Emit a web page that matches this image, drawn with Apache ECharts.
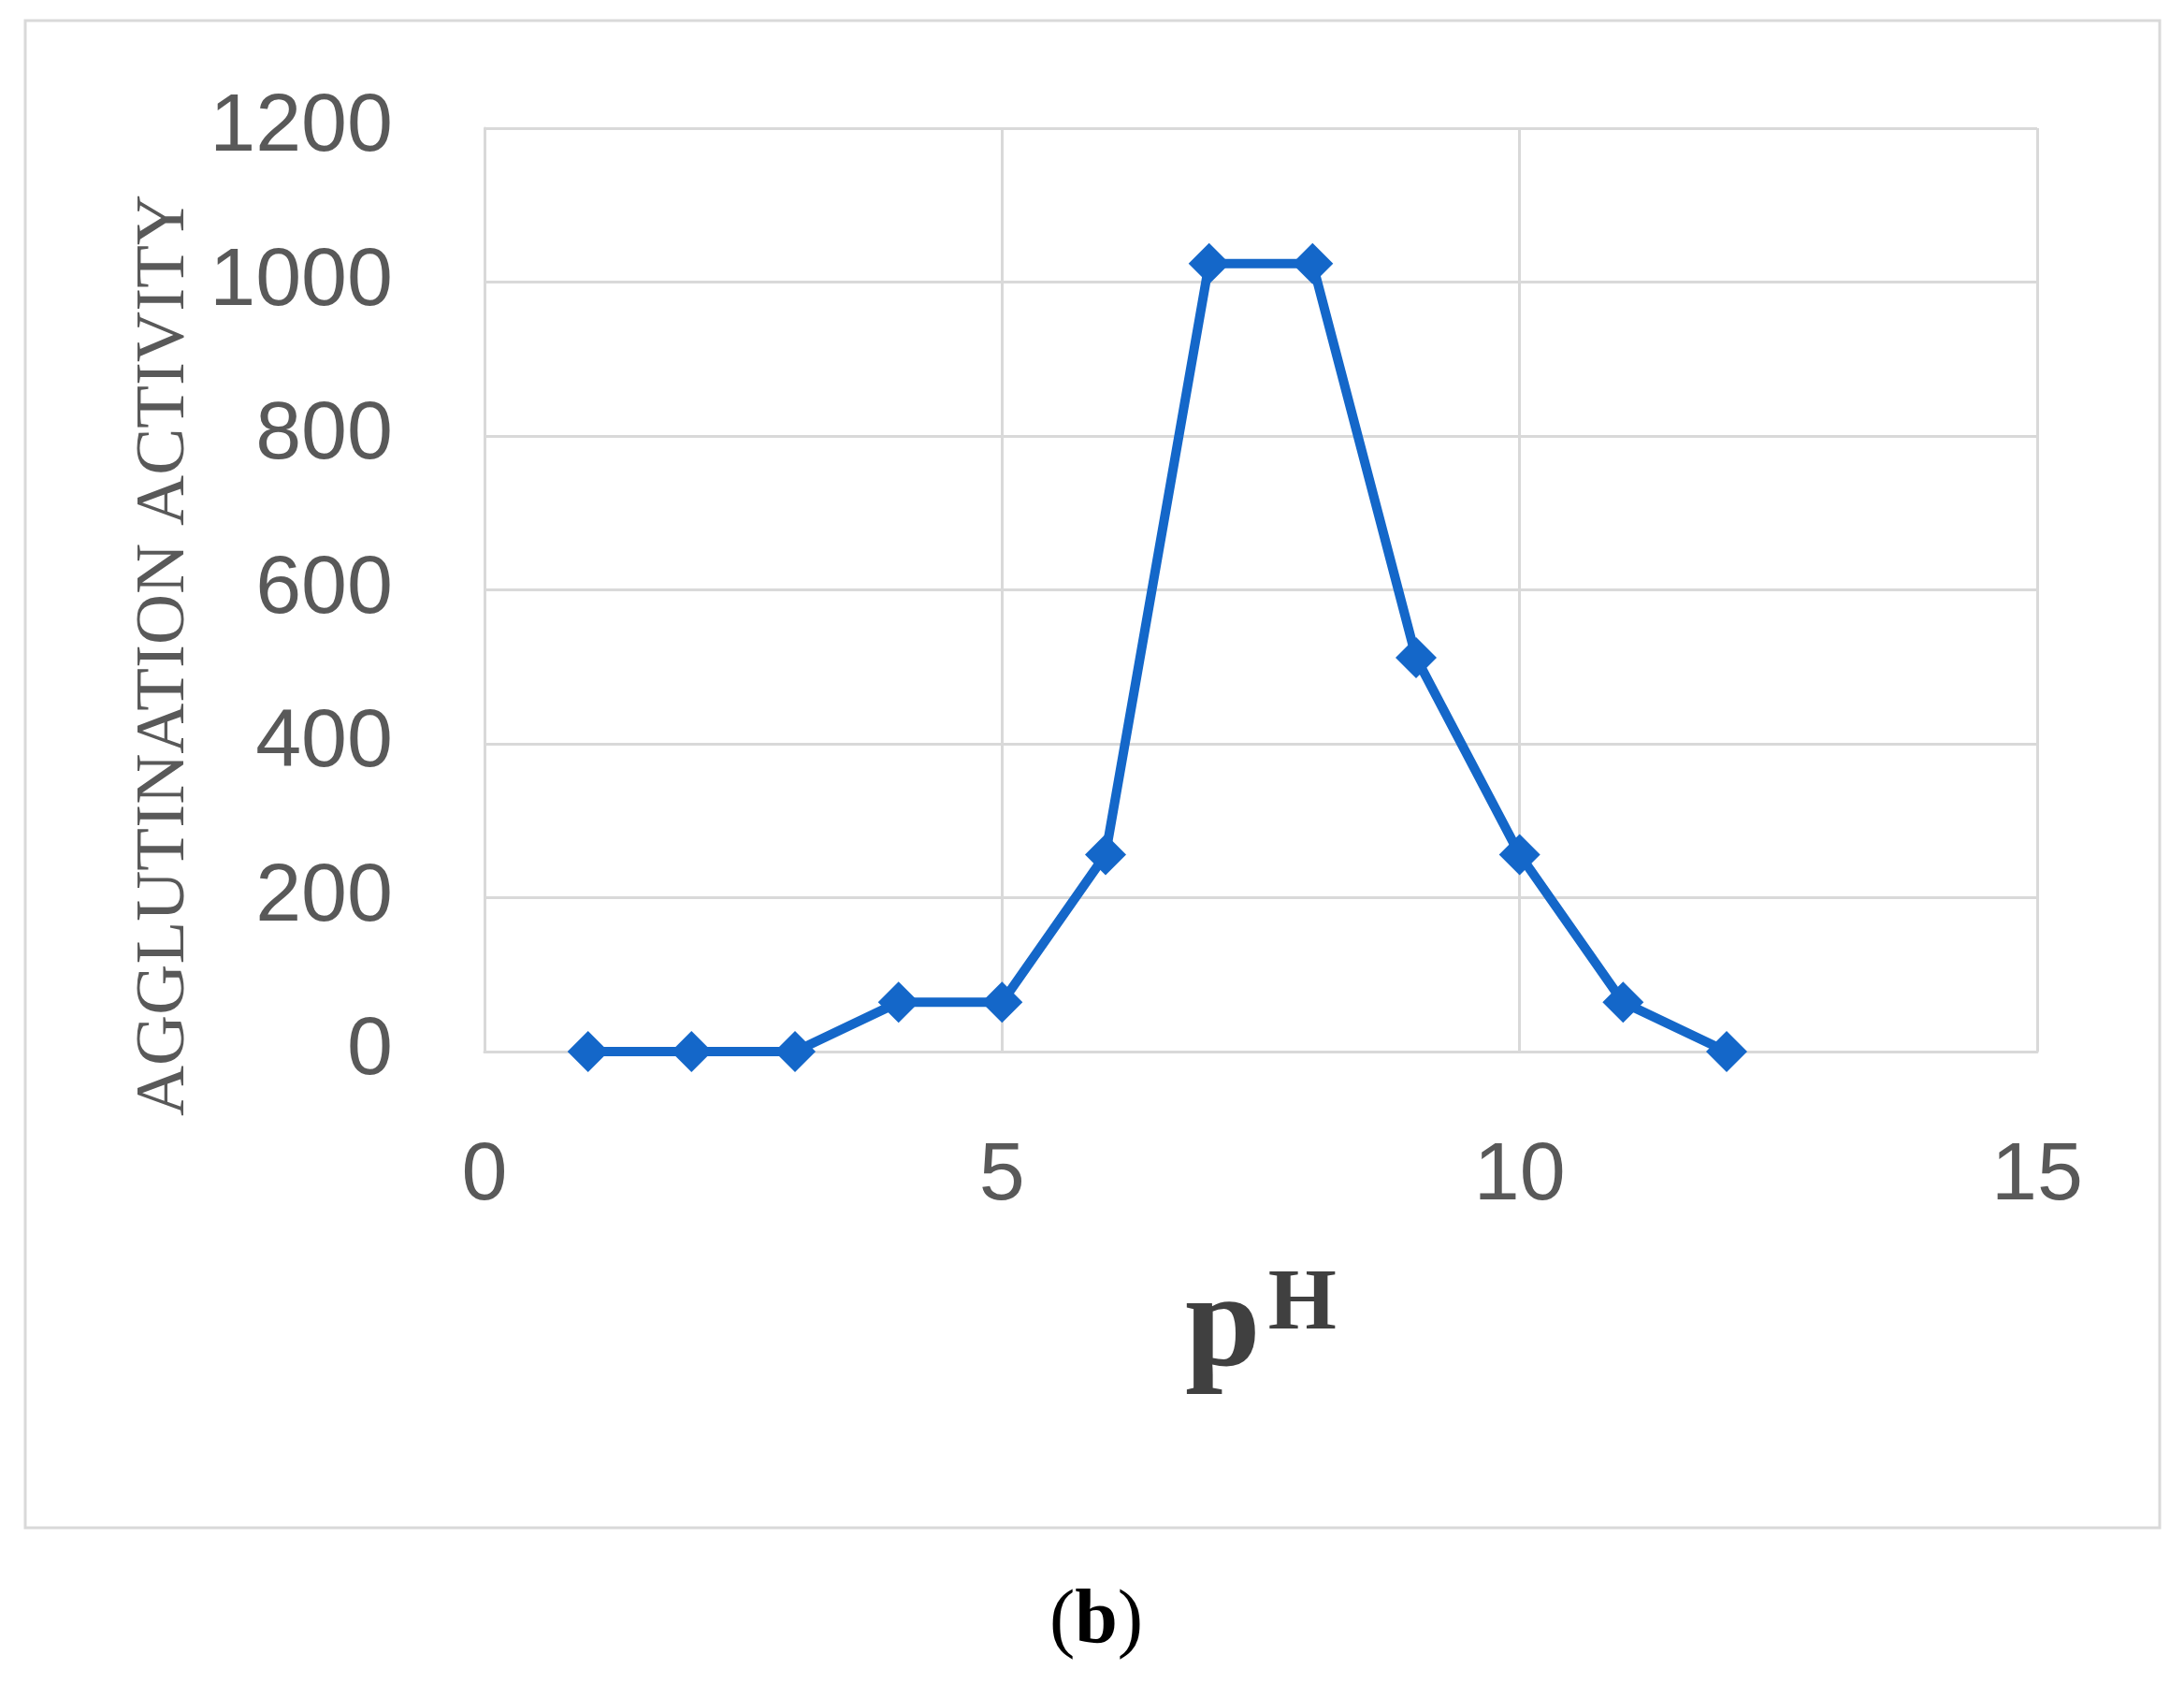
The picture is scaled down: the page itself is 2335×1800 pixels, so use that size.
<!DOCTYPE html>
<html>
<head>
<meta charset="utf-8">
<script src="https://cdn.jsdelivr.net/npm/echarts@6/dist/echarts.min.js"></script>
<style>
html,body{margin:0;padding:0;background:#fff;}
#chart{width:2335px;height:1800px;}
</style>
</head>
<body>
<div id="chart"></div>
<script>
const phValues = [1, 2, 3, 4, 5, 6, 7, 8, 9, 10, 11, 12];
const activity = [0, 0, 0, 64, 64, 256, 1024, 1024, 512, 256, 64, 0];
const xTicks = [0, 5, 10, 15];
const yTicks = [0, 200, 400, 600, 800, 1000, 1200];
const yAxisTitle = 'AGGLUTINATION ACTIVITY';

const chart = echarts.init(document.getElementById('chart'));
const grid = '#d9d9d9';
chart.setOption({
  backgroundColor: '#ffffff',
  animation: false,
  graphic: [{
    type: 'rect',
    shape: {x: 27, y: 22, width: 2282, height: 1611},
    style: {fill: 'none', stroke: '#d9d9d9', lineWidth: 3},
    silent: true
  }],
  title: {
    text: '{p|(}{b|b}{p|)}',
    left: 1167, top: 1688, textAlign: 'center',
    textStyle: {
      rich: {
        p: {fontFamily: 'Liberation Serif', fontSize: 82, fontWeight: 'normal', color: '#000'},
        b: {fontFamily: 'Liberation Serif', fontSize: 82, fontWeight: 'bold', color: '#000'}
      }
    }
  },
  grid: {left: 518, right: 157, top: 137, bottom: 676, containLabel: false},
  xAxis: {
    type: 'value', min: xTicks[0], max: xTicks[xTicks.length - 1], interval: 5,
    name: '{p|p}{h|H}',
    nameLocation: 'middle', nameGap: 225,
    nameTextStyle: {
      rich: {
        p: {fontFamily: 'Liberation Serif', fontSize: 145, fontWeight: 'bold', color: '#404040', verticalAlign: 'bottom'},
        h: {fontFamily: 'Liberation Serif', fontSize: 94, fontWeight: 'bold', color: '#404040', verticalAlign: 'top', padding: [0, 0, 0, 8]}
      }
    },
    axisLine: {show: true, lineStyle: {color: grid, width: 3}},
    axisTick: {show: false},
    axisLabel: {margin: 90, fontFamily: 'Liberation Sans', fontSize: 88, color: '#595959',
      formatter: v => String(v)},
    splitLine: {show: true, lineStyle: {color: grid, width: 3}}
  },
  yAxis: {
    type: 'value', min: yTicks[0], max: yTicks[yTicks.length - 1], interval: 200,
    name: yAxisTitle,
    nameLocation: 'middle', nameGap: 266, nameRotate: 90,
    nameTextStyle: {fontFamily: 'Liberation Serif', fontSize: 75, color: '#595959', padding: [0, 140, 0, 0]},
    axisLine: {show: true, lineStyle: {color: grid, width: 3}},
    axisTick: {show: false},
    axisLabel: {margin: 98, fontFamily: 'Liberation Sans', fontSize: 88, color: '#595959',
      formatter: v => String(v)},
    splitLine: {show: true, lineStyle: {color: grid, width: 3}}
  },
  series: [{
    type: 'line',
    data: phValues.map((x, i) => [x, activity[i]]),
    symbol: 'diamond',
    symbolSize: [44, 44],
    lineStyle: {color: '#1467c9', width: 10},
    itemStyle: {color: '#1467c9'},
    z: 3
  }]
});
</script>
</body>
</html>
